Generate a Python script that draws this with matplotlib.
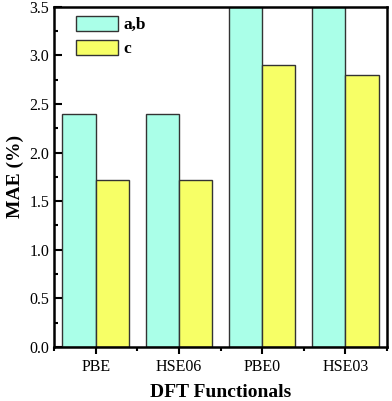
import matplotlib.pyplot as plt
from matplotlib.ticker import MultipleLocator
import numpy as np

plt.rcParams['font.family'] = ['Liberation Serif', 'DejaVu Serif']

functionals = ["PBE", "HSE06", "PBE0", "HSE03"]
mae_ab = [2.4, 2.4, 3.6, 3.6]
mae_c = [1.72, 1.72, 2.9, 2.8]

fig = plt.figure(figsize=(3.92, 4.01), dpi=100)
ax = fig.add_axes([0.138, 0.135, 0.849, 0.848])

x = np.arange(len(functionals))
w = 0.4
ax.bar(x - w / 2, mae_ab, w, color="#aaffe8", edgecolor="#333333", linewidth=1.0, label="a,b")
ax.bar(x + w / 2, mae_c, w, color="#f7ff66", edgecolor="#333333", linewidth=1.0, label="c")

ax.set_xlim(-0.5, 3.5)
ax.set_ylim(0, 3.5)
ax.set_xticks(x)
ax.set_xticklabels(functionals)
ax.xaxis.set_minor_locator(MultipleLocator(1, offset=0.5))
ax.yaxis.set_major_locator(MultipleLocator(0.5))
ax.yaxis.set_minor_locator(MultipleLocator(0.25))
ax.yaxis.set_major_formatter(plt.FormatStrFormatter("%.1f"))
ax.tick_params(axis="y", which="both", direction="in", width=1.5, labelsize=11.5)
ax.tick_params(axis="y", which="major", length=6)
ax.tick_params(axis="y", which="minor", length=3)
ax.tick_params(axis="x", which="both", direction="out", width=1.5, labelsize=11.5)
ax.tick_params(axis="x", which="major", length=5)
ax.tick_params(axis="x", which="minor", length=3)
for s in ax.spines.values():
    s.set_linewidth(1.8)

ax.set_ylabel("MAE (%)", fontsize=14, fontweight="bold")
ax.set_xlabel("DFT Functionals", fontsize=14, fontweight="bold", labelpad=7)

ax.legend(loc="upper left", bbox_to_anchor=(0.02, 1.02), frameon=False,
          prop={"weight": "bold", "size": 12.5}, handlelength=2.4, handleheight=0.95,
          handletextpad=0.3, labelspacing=0.4)

fig.savefig("out.png")
